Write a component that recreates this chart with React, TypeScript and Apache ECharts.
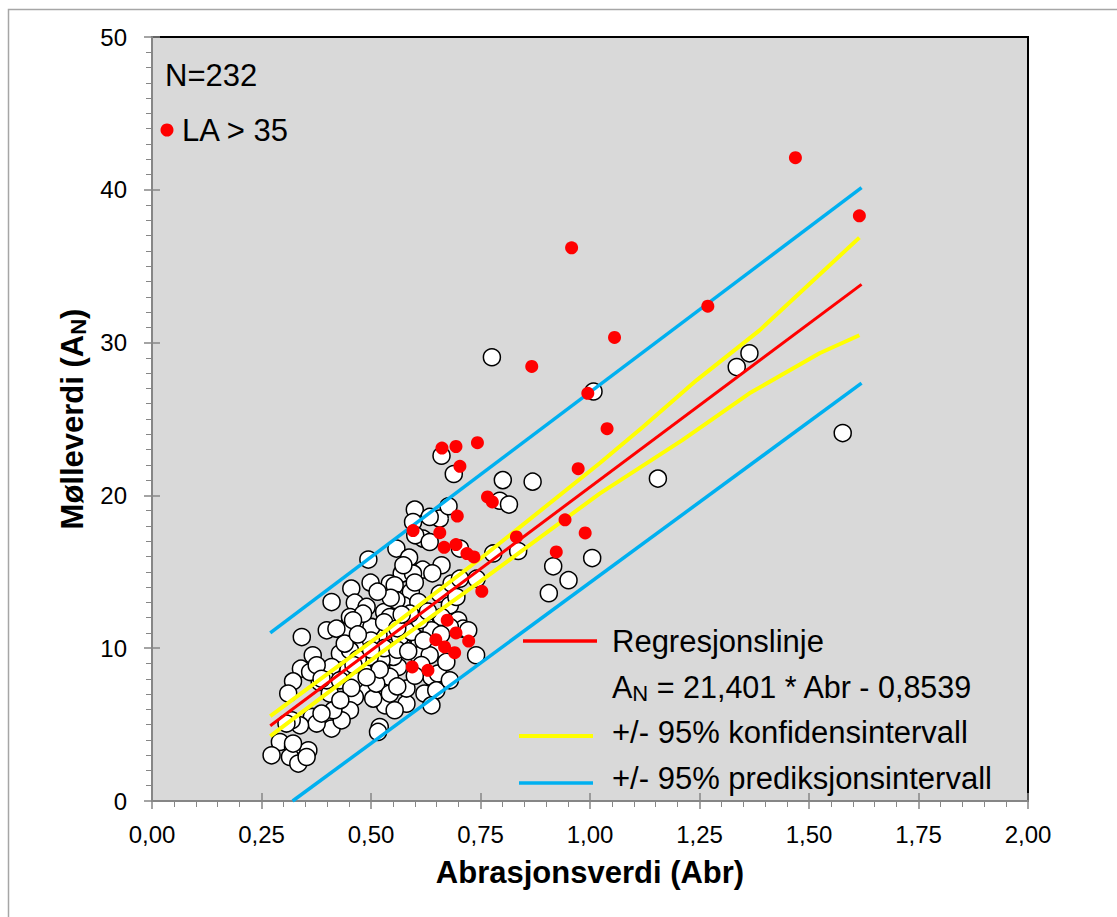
import React, { useEffect, useRef } from "react";
import * as echarts from "echarts";

const FONT = "'Liberation Sans', Arial, sans-serif";

// Abrasjonsverdi (Abr), Mølleverdi (AN) – ordinary samples
const otherPoints: [number, number][] = [
  [0.776, 29.04], [1.008, 26.8], [1.335, 28.4], [1.364, 29.3], [1.577, 24.08],
  [1.155, 21.1], [0.801, 21.0], [0.869, 20.9], [0.794, 19.65], [0.815, 19.4],
  [0.916, 15.36], [0.951, 14.45], [0.906, 13.6], [1.005, 15.9], [0.779, 16.2],
  [0.836, 16.36], [0.661, 22.6], [0.689, 21.4], [0.703, 16.52], [0.741, 14.55],
  [0.6, 19.07], [0.596, 18.26], [0.657, 18.48], [0.677, 19.29], [0.634, 18.59],
  [0.619, 17.17], [0.601, 17.39], [0.634, 16.95], [0.558, 16.52], [0.587, 15.93],
  [0.494, 15.8], [0.661, 15.43], [0.618, 15.14], [0.57, 14.88], [0.499, 14.29],
  [0.455, 13.9], [0.543, 14.23], [0.554, 14.12], [0.591, 13.68], [0.463, 12.98],
  [0.41, 13.02], [0.49, 12.7], [0.53, 12.37], [0.574, 12.81], [0.608, 13.02],
  [0.657, 13.57], [0.68, 12.81], [0.44, 11.28], [0.452, 12.04], [0.475, 11.39],
  [0.52, 11.39], [0.535, 11.06], [0.342, 10.73], [0.367, 9.54], [0.429, 9.65],
  [0.471, 10.08], [0.574, 10.08], [0.611, 10.41], [0.653, 9.97], [0.699, 11.83],
  [0.71, 11.28], [0.74, 9.54], [0.34, 8.66], [0.322, 7.83], [0.311, 7.03],
  [0.383, 7.79], [0.406, 7.03], [0.448, 8.55], [0.482, 7.9], [0.49, 7.24],
  [0.463, 6.81], [0.452, 5.94], [0.41, 4.74], [0.433, 5.28], [0.365, 5.5],
  [0.376, 5.07], [0.338, 4.95], [0.319, 5.28], [0.292, 3.86], [0.273, 2.99],
  [0.322, 3.53], [0.315, 2.88], [0.357, 3.32], [0.334, 2.45], [0.353, 2.88],
  [0.52, 4.84], [0.516, 4.52], [0.562, 8.77], [0.543, 8.12], [0.581, 6.37],
  [0.532, 6.26], [0.505, 6.7], [0.646, 7.79], [0.638, 8.12], [0.653, 8.34],
  [0.622, 7.03], [0.581, 7.36], [0.608, 9.54], [0.634, 9.54], [0.672, 9.1],
  [0.566, 10.73], [0.593, 11.06], [0.623, 11.61], [0.68, 11.39], [0.399, 11.17],
  [0.41, 8.77], [0.399, 7.9], [0.429, 7.9], [0.361, 8.44], [0.376, 8.88],
  [0.414, 5.94], [0.387, 5.72], [0.482, 8.55], [0.512, 7.68], [0.543, 7.03],
  [0.551, 9.43], [0.524, 9.21], [0.497, 9.43], [0.452, 9.86], [0.517, 10.84],
  [0.543, 12.04], [0.558, 13.14], [0.501, 11.39], [0.482, 12.26], [0.459, 11.83],
  [0.661, 12.04], [0.638, 11.17], [0.611, 11.83], [0.589, 12.26], [0.596, 14.88],
  [0.574, 15.43], [0.684, 14.23], [0.703, 14.55], [0.695, 13.35], [0.722, 11.17],
  [0.649, 7.24], [0.68, 7.9], [0.638, 6.26], [0.554, 5.94], [0.463, 7.9],
  [0.307, 5.07], [0.421, 11.28], [0.322, 3.76], [0.387, 8.0],
  [0.5, 10.5], [0.53, 10.0], [0.56, 9.9], [0.585, 9.8], [0.615, 8.9],
  [0.6, 8.2], [0.56, 7.5], [0.47, 9.3], [0.44, 10.3], [0.455, 7.4],
  [0.52, 8.6], [0.63, 12.4], [0.545, 13.3], [0.515, 13.7], [0.6, 14.3],
  [0.64, 14.9], [0.66, 10.9],
  [0.47, 10.9], [0.5, 9.9], [0.53, 11.7], [0.56, 11.3], [0.49, 8.1],
  [0.46, 8.9], [0.43, 6.6], [0.57, 12.2], [0.62, 10.5],
];

// Samples with LA > 35
const laPoints: [number, number][] = [
  [0.662, 23.1], [0.694, 23.2], [0.743, 23.45], [0.703, 21.9], [1.039, 24.37],
  [0.973, 21.75], [0.766, 19.9], [0.777, 19.57], [0.697, 18.65], [0.596, 17.7],
  [0.657, 17.56], [0.667, 16.6], [0.694, 16.78], [0.719, 16.19], [0.735, 15.97],
  [0.832, 17.28], [0.943, 18.4], [0.989, 17.54], [0.923, 16.3], [0.753, 13.72],
  [0.674, 11.83], [0.694, 11.0], [0.723, 10.47], [0.648, 10.56], [0.668, 10.08],
  [0.691, 9.71], [0.594, 8.77], [0.63, 8.55], [0.958, 36.2], [0.867, 28.44],
  [1.056, 30.34], [1.269, 32.38], [1.469, 42.1], [1.615, 38.3], [0.995, 26.68],
];

const regLine: [number, number][] = [[0.27, 4.92], [1.62, 33.81]];
const confUpper: [number, number][] = [
  [0.27, 5.56], [0.52, 10.84], [0.748, 15.82], [1.022, 22.1], [1.12, 24.46],
  [1.243, 27.53], [1.387, 30.8], [1.615, 36.87],
];
const confLower: [number, number][] = [
  [0.27, 4.25], [0.52, 9.65], [0.748, 14.34], [1.022, 20.12], [1.21, 23.6],
  [1.364, 26.68], [1.524, 29.3], [1.615, 30.48],
];
const predUpper: [number, number][] = [[0.27, 11.0], [1.62, 40.14]];
const predLower: [number, number][] = [[0.321, 0], [1.62, 27.35]];

const xTickFormat = (v: number) => v.toFixed(2).replace(".", ",");

const GRAY = "#868686";

export default function App() {
  const ref = useRef<HTMLDivElement>(null);
  useEffect(() => {
    const chart = echarts.init(ref.current!, null, { renderer: "svg" });
    const lineSeries = (name: string, data: [number, number][], color: string, width: number) => ({
      type: "line",
      name,
      data,
      symbol: "none",
      lineStyle: { color, width },
      itemStyle: { color },
      z: 3,
    });
    chart.setOption({
      animation: false,
      textStyle: { fontFamily: FONT },
      grid: {
        left: 152,
        right: 89,
        top: 37,
        bottom: 116,
        show: true,
        backgroundColor: "#d9d9d9",
        borderColor: "#000",
        borderWidth: 2,
      },
      xAxis: [
        {
          type: "value",
          min: 0,
          max: 2,
          interval: 0.25,
          position: "bottom",
          axisLine: { lineStyle: { color: GRAY, width: 2 } },
          axisTick: { length: 8, lineStyle: { color: GRAY, width: 1.5 } },
          minorTick: { show: true, splitNumber: 5, length: 6, lineStyle: { color: GRAY, width: 1 } },
          splitLine: { show: false },
          minorSplitLine: { show: false },
          axisLabel: { formatter: xTickFormat, fontSize: 24, color: "#000", margin: 21, fontFamily: FONT },
          name: "Abrasjonsverdi (Abr)",
          nameLocation: "middle",
          nameGap: 56,
          nameTextStyle: { fontSize: 31, fontWeight: "bold", color: "#000", fontFamily: FONT },
        },
        {
          type: "value",
          min: 0,
          max: 2,
          interval: 0.25,
          position: "bottom",
          axisLine: { show: false },
          axisTick: { inside: true, length: 8, lineStyle: { color: GRAY, width: 1.5 } },
          axisLabel: { show: false },
          splitLine: { show: false },
        },
      ],
      yAxis: [
        {
          type: "value",
          min: 0,
          max: 50,
          interval: 10,
          position: "left",
          axisLine: { show: true, lineStyle: { color: GRAY, width: 2 } },
          axisTick: { show: true, length: 8, lineStyle: { color: GRAY, width: 1.5 } },
          minorTick: { show: true, splitNumber: 10, length: 6, lineStyle: { color: GRAY, width: 1 } },
          splitLine: { show: false },
          minorSplitLine: { show: false },
          axisLabel: { fontSize: 24, color: "#000", margin: 25, fontFamily: FONT },
          name: "{a|Mølleverdi (A}{b|N}{a|)}",
          nameLocation: "middle",
          nameGap: 62,
          nameRotate: 90,
          nameTextStyle: {
            color: "#000",
            rich: {
              a: { fontSize: 31, fontWeight: "bold", fontFamily: FONT, lineHeight: 34, color: "#000" },
              b: { fontSize: 22, fontWeight: "bold", fontFamily: FONT, lineHeight: 18, verticalAlign: "bottom", color: "#000" },
            },
          },
        },
        {
          type: "value",
          min: 0,
          max: 50,
          interval: 10,
          position: "left",
          axisLine: { show: false },
          axisTick: { show: true, inside: true, length: 8, lineStyle: { color: GRAY, width: 1.5 } },
          axisLabel: { show: false },
          splitLine: { show: false },
        },
      ],
      series: [
        {
          type: "scatter",
          name: "Øvrige",
          data: otherPoints,
          symbolSize: 17,
          itemStyle: { color: "#ffffff", borderColor: "#000", borderWidth: 1.5, opacity: 1 },
          z: 2,
        },
        lineSeries("Regresjonslinje", regLine, "#ff0000", 3),
        lineSeries("+/- 95% konfidensintervall", confUpper, "#ffff00", 4),
        lineSeries("+/- 95% konfidensintervall ", confLower, "#ffff00", 4),
        lineSeries("+/- 95% prediksjonsintervall", predUpper, "#00b0f0", 3.5),
        lineSeries("+/- 95% prediksjonsintervall ", predLower, "#00b0f0", 3.5),
        {
          type: "scatter",
          name: "LA > 35",
          data: laPoints,
          symbolSize: 13,
          itemStyle: { color: "#ff0000", opacity: 1 },
          z: 4,
        },
      ],
      graphic: [
        {
          type: "rect",
          silent: true,
          shape: { x: 8.5, y: 9.5, width: 1300, height: 1300 },
          style: { fill: "none", stroke: "#a6a6a6", lineWidth: 1.5 },
          z: 10,
        },
        {
          type: "text",
          x: 165,
          y: 75,
          style: { text: "N=232", font: `31px ${FONT}`, fill: "#000", verticalAlign: "middle" },
          z: 10,
        },
        {
          type: "circle",
          shape: { cx: 167, cy: 130, r: 6.5 },
          style: { fill: "#ff0000" },
          z: 10,
        },
        {
          type: "text",
          x: 182,
          y: 130,
          style: { text: "LA > 35", font: `31px ${FONT}`, fill: "#000", verticalAlign: "middle" },
          z: 10,
        },
        {
          type: "line",
          shape: { x1: 523, y1: 641, x2: 597, y2: 641 },
          style: { stroke: "#ff0000", lineWidth: 3.5 },
          z: 10,
        },
        {
          type: "text",
          x: 612,
          y: 641,
          style: { text: "Regresjonslinje", font: `31px ${FONT}`, fill: "#000", verticalAlign: "middle" },
          z: 10,
        },
        {
          type: "text",
          x: 612,
          y: 687,
          style: {
            text: "{a|A}{b|N}{a| = 21,401 * Abr - 0,8539}",
            verticalAlign: "middle",
            rich: {
              a: { fontSize: 30.5, fontFamily: FONT, fill: "#000", lineHeight: 34 },
              b: { fontSize: 22, fontFamily: FONT, fill: "#000", lineHeight: 18, verticalAlign: "bottom" },
            },
          },
          z: 10,
        },
        {
          type: "line",
          shape: { x1: 519, y1: 736, x2: 593, y2: 736 },
          style: { stroke: "#ffff00", lineWidth: 4 },
          z: 10,
        },
        {
          type: "text",
          x: 612,
          y: 732,
          style: { text: "+/- 95% konfidensintervall", font: `31px ${FONT}`, fill: "#000", verticalAlign: "middle" },
          z: 10,
        },
        {
          type: "line",
          shape: { x1: 519, y1: 783, x2: 593, y2: 783 },
          style: { stroke: "#00b0f0", lineWidth: 3.5 },
          z: 10,
        },
        {
          type: "text",
          x: 612,
          y: 778,
          style: { text: "+/- 95% prediksjonsintervall", font: `31px ${FONT}`, fill: "#000", verticalAlign: "middle" },
          z: 10,
        },
      ],
    });
    return () => chart.dispose();
  }, []);
  return (
    <div
      ref={ref}
      style={{ position: "fixed", left: 0, top: 0, width: 1117, height: 917, background: "#fff" }}
    />
  );
}
